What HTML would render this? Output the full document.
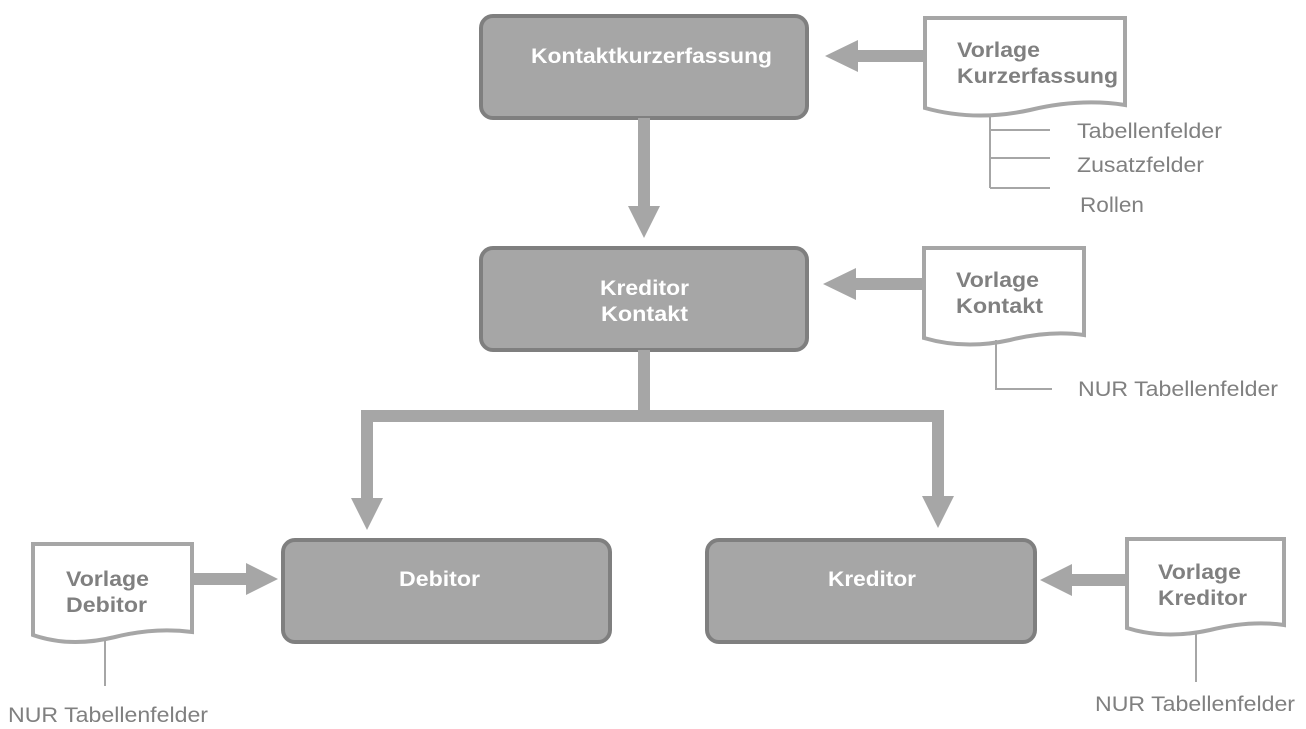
<!DOCTYPE html>
<html><head><meta charset="utf-8"><style>html,body{margin:0;padding:0;background:#fff}svg{display:block}</style></head><body>
<svg width="1306" height="729" viewBox="0 0 1306 729" xmlns="http://www.w3.org/2000/svg" font-family="Liberation Sans, sans-serif">
<g fill="#a6a6a6" stroke="#7f7f7f" stroke-width="4">
<rect x="481" y="16" width="326" height="102" rx="12"/>
<rect x="481" y="248" width="326" height="102" rx="12"/>
<rect x="283" y="540" width="327" height="102" rx="12"/>
<rect x="707" y="540" width="328" height="102" rx="12"/>
</g>
<g fill="#fff" font-weight="bold" font-size="21" lengthAdjust="spacingAndGlyphs">
<text x="531" y="63" textLength="241" lengthAdjust="spacingAndGlyphs">Kontaktkurzerfassung</text>
<text x="600" y="295" textLength="89" lengthAdjust="spacingAndGlyphs">Kreditor</text>
<text x="601" y="321" textLength="87" lengthAdjust="spacingAndGlyphs">Kontakt</text>
<text x="399" y="586" textLength="81" lengthAdjust="spacingAndGlyphs">Debitor</text>
<text x="828" y="586" textLength="88" lengthAdjust="spacingAndGlyphs">Kreditor</text>
</g>
<g fill="#fff" stroke="#a6a6a6" stroke-width="4">
<path d="M925 18 H1125 V105 Q1080 98 1030 110 Q975 122 925 108 Z"/>
<path d="M924 248 H1084 V335 Q1050 330 1010 340 Q965 350 924 338 Z"/>
<path d="M33 544 H192 V632 Q155 627 115 637 Q70 648 33 635 Z"/>
<path d="M1127 539 H1284 V625 Q1250 620 1210 630 Q1165 640 1127 628 Z"/>
</g>
<g fill="#808080" font-weight="bold" font-size="21">
<text x="957" y="57" textLength="83" lengthAdjust="spacingAndGlyphs">Vorlage</text><text x="957" y="83" textLength="161" lengthAdjust="spacingAndGlyphs">Kurzerfassung</text>
<text x="956" y="287" textLength="83" lengthAdjust="spacingAndGlyphs">Vorlage</text><text x="956" y="313" textLength="87" lengthAdjust="spacingAndGlyphs">Kontakt</text>
<text x="66" y="586" textLength="83" lengthAdjust="spacingAndGlyphs">Vorlage</text><text x="66" y="612" textLength="81" lengthAdjust="spacingAndGlyphs">Debitor</text>
<text x="1158" y="579" textLength="83" lengthAdjust="spacingAndGlyphs">Vorlage</text><text x="1158" y="605" textLength="89" lengthAdjust="spacingAndGlyphs">Kreditor</text>
</g>
<g fill="#a6a6a6">
<rect x="856" y="50" width="70" height="12"/><polygon points="825,56 858,40 858,72"/>
<rect x="638" y="118" width="12" height="90"/><polygon points="628,206 660,206 644,238"/>
<rect x="855" y="278" width="70" height="12"/><polygon points="823,284 856,268 856,300"/>
<rect x="638" y="350" width="12" height="72"/>
<rect x="361" y="410" width="583" height="12"/>
<rect x="361" y="410" width="12" height="90"/><polygon points="351,498 383,498 367,530"/>
<rect x="932" y="410" width="12" height="88"/><polygon points="922,496 954,496 938,528"/>
<rect x="192" y="573" width="56" height="12"/><polygon points="278,579 246,563 246,595"/>
<rect x="1070" y="574" width="57" height="12"/><polygon points="1040,580 1072,564 1072,596"/>
</g>
<g stroke="#a6a6a6" stroke-width="2" fill="none">
<path d="M990 115 V188 M990 130 H1050 M990 158 H1050 M990 188 H1050"/>
<path d="M996 340 V389 H1052"/>
<path d="M105 640 V686"/>
<path d="M1196 632 V682"/>
</g>
<g fill="#808080" font-size="21">
<text x="1077" y="138" textLength="145" lengthAdjust="spacingAndGlyphs">Tabellenfelder</text>
<text x="1077" y="172" textLength="127" lengthAdjust="spacingAndGlyphs">Zusatzfelder</text>
<text x="1080" y="212" textLength="64" lengthAdjust="spacingAndGlyphs">Rollen</text>
<text x="1078" y="396" textLength="200" lengthAdjust="spacingAndGlyphs">NUR Tabellenfelder</text>
<text x="8" y="722" textLength="200" lengthAdjust="spacingAndGlyphs">NUR Tabellenfelder</text>
<text x="1095" y="711" textLength="200" lengthAdjust="spacingAndGlyphs">NUR Tabellenfelder</text>
</g>
</svg>
</body></html>
